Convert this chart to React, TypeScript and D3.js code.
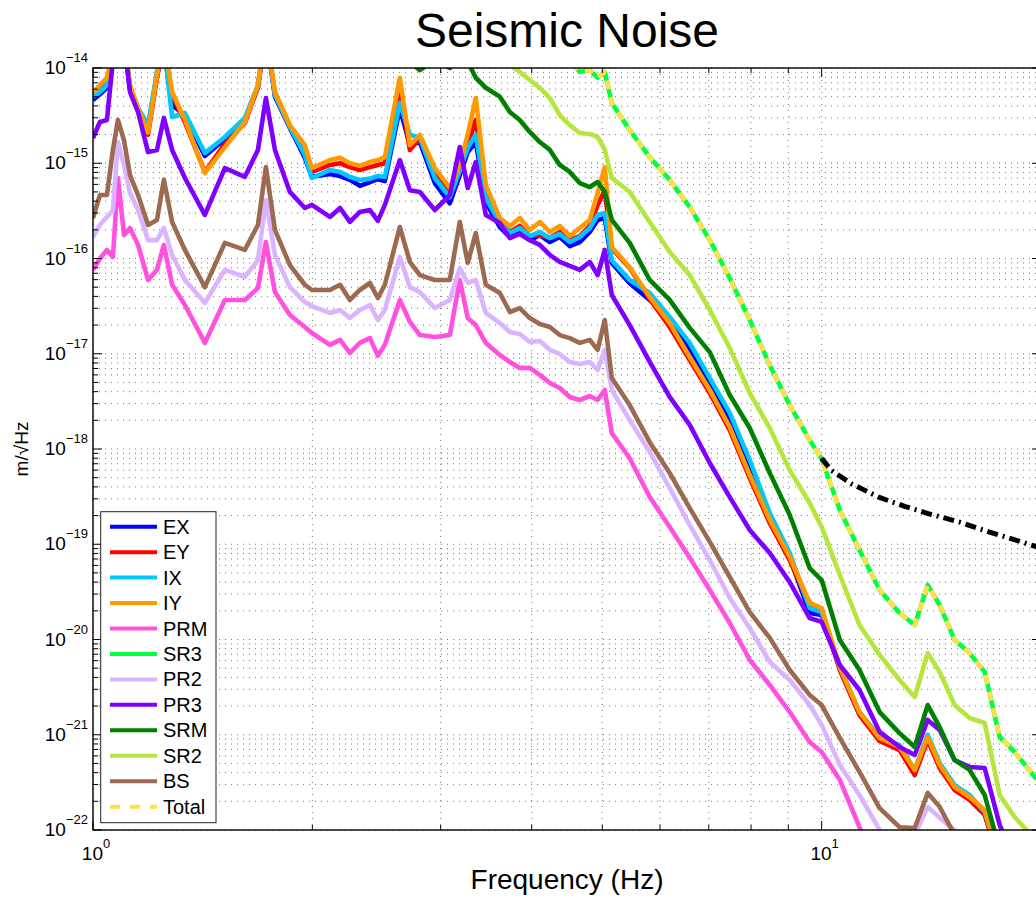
import React from "react";
import * as d3 from "d3";

// shared frequency grid (Hz)
const freqs = [
  1.0, 1.022, 1.045, 1.065, 1.082, 1.103, 1.124, 1.153, 1.19, 1.224,
  1.251, 1.284, 1.337, 1.424, 1.517, 1.616, 1.684, 1.727, 1.777, 1.863,
  1.953, 1.997, 2.114, 2.183, 2.252, 2.324, 2.399, 2.46, 2.515, 2.637,
  2.722, 2.809, 2.945, 3.088, 3.187, 3.268, 3.352, 3.46, 3.617,
  3.733, 3.852, 3.976, 4.104, 4.236, 4.371, 4.511, 4.656, 4.806,
  4.927, 5.039, 5.152, 5.452, 5.808, 6.186, 6.591, 7.022, 7.479, 7.967,
  8.487, 9.04, 9.628, 10.0, 10.59, 11.27, 12.01, 12.79, 13.42, 13.98,
  14.52, 15.22, 15.96, 16.74, 17.55, 18.4, 19.66, 20.55,
];

const exVals = [
  4.6e-15, 5.3e-15, 6.2e-15, 1.27e-14, 2.4e-14, 1.87e-14, 5.9e-15, 3.6e-15, 2.4e-15, 8.4e-15,
  1.62e-14, 4.1e-15, 3.2e-15, 1.19e-15, 1.8e-15, 2.85e-15, 6.3e-15, 2.4e-14, 5.0e-15, 2.34e-15,
  1.14e-15, 7.2e-16, 7.7e-16, 7.35e-16, 6.7e-16, 5.8e-16, 6.35e-16, 6.8e-16, 6.5e-16, 3.8e-15,
  1.55e-15, 1.67e-15, 6.2e-16, 3.8e-16, 7.5e-16, 1.31e-15, 1.67e-15, 3.9e-16, 2.14e-16,
  1.68e-16, 1.85e-16, 1.56e-16, 1.76e-16, 1.49e-16, 1.68e-16, 1.35e-16, 1.49e-16, 1.9e-16,
  2.54e-16, 2.66e-16, 9.0e-17, 5.5e-17, 3.67e-17, 2.26e-17, 1.1e-17, 4.9e-18, 2.0e-18, 6.8e-19,
  1.93e-19, 7.2e-20, 1.9e-20, 1.81e-20, 5.0e-21, 1.65e-21, 9.0e-22, 7.3e-22, 4.1e-22, 9.25e-22,
  4.7e-22, 2.76e-22, 2.17e-22, 1.48e-22, 4.7e-23, null, null, null,
];

const eyVals = [
  5.1e-15, 5.9e-15, 7.0e-15, 1.27e-14, 2.4e-14, 1.87e-14, 6.3e-15, 3.6e-15, 2.0e-15, 7.9e-15,
  1.87e-14, 5.2e-15, 2.7e-15, 8.1e-16, 1.6e-15, 2.65e-15, 6.3e-15, 2.4e-14, 5.3e-15, 2.4e-15,
  1.38e-15, 8.1e-16, 9.6e-16, 1.0e-15, 9.1e-16, 8.5e-16, 9.1e-16, 9.6e-16, 1.0e-15, 5.9e-15,
  1.38e-15, 1.84e-15, 7.9e-16, 4.9e-16, 8.1e-16, 1.55e-15, 2.85e-15, 5.2e-16, 2.42e-16,
  1.9e-16, 2.2e-16, 1.72e-16, 1.76e-16, 1.64e-16, 1.9e-16, 1.56e-16, 1.72e-16, 2.2e-16,
  3.65e-16, 5.2e-16, 1.28e-16, 7.95e-17, 3.76e-17, 1.91e-17, 8.6e-18, 3.87e-18, 1.58e-18, 4.96e-19,
  1.67e-19, 6.8e-20, 2.25e-20, 1.99e-20, 4.78e-21, 1.61e-21, 8.6e-22, 6.9e-22, 3.78e-22, 8.8e-22,
  4.47e-22, 2.63e-22, 2.07e-22, 1.44e-22, 4.6e-23, null, null, null,
];

const ixVals = [
  5.0e-15, 5.6e-15, 6.6e-15, 1.37e-14, 2.5e-14, 2.0e-14, 6.2e-15, 3.8e-15, 2.52e-15, 9.1e-15,
  1.74e-14, 3.06e-15, 3.37e-15, 1.28e-15, 1.89e-15, 3.0e-15, 6.6e-15, 2.5e-14, 5.2e-15, 2.4e-15,
  1.22e-15, 7.0e-16, 8.5e-16, 8.1e-16, 7.2e-16, 6.67e-16, 6.9e-16, 7.35e-16, 7.2e-16, 4.3e-15,
  2.0e-15, 1.84e-15, 7.0e-16, 4.4e-16, 8.5e-16, 1.45e-15, 2.0e-15, 4.3e-16, 2.36e-16,
  1.85e-16, 2.09e-16, 1.72e-16, 1.9e-16, 1.64e-16, 1.81e-16, 1.49e-16, 1.68e-16, 2.09e-16,
  2.87e-16, 3.0e-16, 9.6e-17, 5.95e-17, 4.34e-17, 2.43e-17, 1.3e-17, 5.56e-18, 2.39e-18, 7.66e-19,
  2.13e-19, 8.1e-20, 2.14e-20, 1.94e-20, 5.14e-21, 1.73e-21, 9.47e-22, 7.8e-22, 4.27e-22, 1.0e-21,
  5.05e-22, 2.96e-22, 2.33e-22, 1.55e-22, 4.8e-23, null, null, null,
];

const iyVals = [
  5.5e-15, 6.6e-15, 7.9e-15, 1.37e-14, 2.5e-14, 2.0e-14, 6.6e-15, 3.8e-15, 2.1e-15, 8.4e-15,
  2.0e-14, 5.6e-15, 2.85e-15, 7.9e-16, 1.48e-15, 2.71e-15, 6.6e-15, 2.5e-14, 5.6e-15, 2.52e-15,
  1.55e-15, 8.9e-16, 1.08e-15, 1.14e-15, 1.0e-15, 9.4e-16, 1.03e-15, 1.08e-15, 1.16e-15, 7.9e-15,
  1.55e-15, 1.98e-15, 8.9e-16, 5.5e-16, 9.6e-16, 2.0e-15, 4.84e-15, 5.9e-16, 2.66e-16,
  2.19e-16, 2.66e-16, 1.99e-16, 2.42e-16, 1.9e-16, 2.2e-16, 1.72e-16, 2.09e-16, 2.54e-16,
  4.87e-16, 9.1e-16, 1.32e-16, 8.1e-17, 3.94e-17, 2.1e-17, 9.25e-18, 4.17e-18, 1.7e-18, 5.33e-19,
  1.8e-19, 7.35e-20, 2.42e-20, 2.14e-20, 5.14e-21, 1.73e-21, 9.25e-22, 7.44e-22, 4.27e-22, 9.47e-22,
  4.81e-22, 2.83e-22, 2.22e-22, 1.62e-22, 4.84e-23, null, null, null,
];

const prmVals = [
  7.6e-17, 1.0e-16, 1.23e-16, 1.04e-16, 7.0e-16, 1.76e-16, 2.09e-16, 1.39e-16, 5.95e-17, 7.6e-17,
  1.39e-16, 5.3e-17, 3.25e-17, 1.3e-17, 3.67e-17, 3.67e-17, 4.9e-17, 1.49e-16, 4.45e-17, 2.55e-17,
  1.91e-17, 1.65e-17, 1.24e-17, 1.4e-17, 1.02e-17, 1.3e-17, 1.46e-17, 9.5e-18, 1.24e-17, 3.67e-17,
  2.16e-17, 1.57e-17, 1.5e-17, 1.57e-17, 5.95e-17, 2.37e-17, 2.0e-17, 1.3e-17, 9.7e-18,
  8.2e-18, 7.1e-18, 7.1e-18, 6.0e-18, 4.93e-18, 4.37e-18, 3.52e-18, 3.27e-18, 3.6e-18,
  3.27e-18, 4.17e-18, 1.47e-18, 8.0e-19, 3.13e-19, 1.52e-19, 7.2e-20, 3.31e-20, 1.49e-20, 6.1e-21,
  3.33e-21, 1.73e-21, 8.4e-22, 6.6e-22, 3.35e-22, 1.07e-22, 3.8e-23, null, null, null,
  null, null, null, null, null, null, null, null,
];

const sr3Vals = [
  null, null, null, null, null, null, null, null, null, null,
  null, null, null, null, null, null, null, null, null, null,
  null, null, null, null, null, null, null, null, null, null,
  null, null, null, null, null, null, null, null, null,
  null, 3.2e-14, 2.63e-14, 2.22e-14, 1.87e-14, 1.55e-14, 1.21e-14, 9.1e-15, 9.5e-15,
  7.9e-15, 9.1e-15, 4.3e-15, 2.23e-15, 1.16e-15, 6.7e-16, 3.47e-16, 1.56e-16, 6.24e-17, 2.26e-17,
  7.6e-18, 2.89e-18, 1.24e-18, 7.85e-19, 2.29e-19, 8.7e-20, 3.31e-20, 1.9e-20, 1.42e-20, 3.74e-20,
  2.3e-20, 9.9e-21, 7.2e-21, 4.56e-21, 9.47e-22, 6.6e-22, 3.52e-22, 2.63e-22,
];

const pr2Vals = [
  1.68e-16, 2.25e-16, 2.73e-16, 3.23e-16, 1.67e-15, 9.6e-16, 4.87e-16, 3.23e-16, 1.56e-16, 1.56e-16,
  2.09e-16, 1.09e-16, 5.95e-17, 3.41e-17, 7.6e-17, 6.4e-17, 9.6e-17, 4.11e-16, 1.09e-16, 5.0e-17,
  3.49e-17, 3.17e-17, 2.68e-17, 2.88e-17, 2.37e-17, 2.88e-17, 3.25e-17, 2.26e-17, 2.88e-17, 1.04e-16,
  5.0e-17, 4.45e-17, 3.02e-17, 3.67e-17, 7.95e-17, 5.53e-17, 5.95e-17, 2.68e-17, 2.1e-17,
  1.69e-17, 1.61e-17, 1.33e-17, 1.36e-17, 1.1e-17, 9.94e-18, 8.2e-18, 7.8e-18, 8.2e-18,
  6.75e-18, 1.1e-17, 4.17e-18, 2.01e-18, 9.3e-19, 3.89e-19, 1.59e-19, 6.83e-20, 2.73e-20, 1.32e-20,
  5.8e-21, 3.76e-21, 2.05e-21, 1.27e-21, 4.81e-22, 2.33e-22, 1.0e-22, 6.2e-23, 8.86e-23, 1.75e-22,
  1.34e-22, 1.0e-22, 6.2e-23, null, null, null, null, null,
];

const pr3Vals = [
  1.84e-15, 2.71e-15, 2.85e-15, 1.21e-14, 3.2e-14, 2.0e-14, 5.6e-15, 3.45e-15, 1.31e-15, 1.38e-15,
  2.99e-15, 1.38e-15, 7.0e-16, 2.87e-16, 8.9e-16, 7.2e-16, 1.38e-15, 4.84e-15, 1.38e-15, 5.0e-16,
  3.39e-16, 3.65e-16, 2.73e-16, 3.39e-16, 2.42e-16, 3.08e-16, 3.23e-16, 2.48e-16, 3.65e-16, 1.08e-15,
  5.2e-16, 5.0e-16, 3.23e-16, 4.64e-16, 1.48e-15, 5.5e-16, 1.03e-15, 2.87e-16, 2.36e-16,
  1.64e-16, 1.81e-16, 1.56e-16, 1.39e-16, 1.09e-16, 9.2e-17, 8.35e-17, 7.6e-17, 9.2e-17,
  6.7e-17, 1.23e-16, 4.14e-17, 2.0e-17, 8.2e-18, 3.52e-18, 1.79e-18, 7.13e-19, 3.13e-19, 1.41e-19,
  8.1e-20, 4.0e-20, 1.68e-20, 1.53e-20, 5.4e-21, 2.95e-21, 1.07e-21, 7.44e-22, 6.13e-22, 1.43e-21,
  1.12e-21, 5.43e-22, 4.59e-22, 4.47e-22, 1.13e-22, 4.8e-23, null, null,
];

const srmVals = [
  null, null, null, null, null, null, null, null, null, null,
  null, null, null, null, null, null, null, null, null, null,
  null, null, null, null, null, null, 4.06e-14, 2.6e-14, 2.0e-14, 1.37e-14,
  1.16e-14, 9.5e-15, 1.21e-14, 1.0e-14, 1.37e-14, 1.16e-14, 7.9e-15, 6.2e-15, 5.0e-15,
  3.45e-15, 2.85e-15, 2.13e-15, 1.67e-15, 1.38e-15, 9.6e-16, 8.1e-16, 6.2e-16, 5.63e-16,
  6.35e-16, 5.0e-16, 2.54e-16, 1.46e-16, 5.95e-17, 3.67e-17, 1.87e-17, 1.04e-17, 3.69e-18, 1.66e-18,
  5.6e-19, 2.03e-19, 5.63e-20, 4.21e-20, 9.9e-21, 4.78e-21, 1.73e-21, 1.04e-21, 7.44e-22, 2.05e-21,
  1.2e-21, 5.43e-22, 4.27e-22, 2.33e-22, 6.2e-23, null, null, null,
];

const sr2Vals = [
  null, null, null, null, null, null, null, null, null, null,
  null, null, null, null, null, null, null, null, null, null,
  null, null, null, null, null, null, null, null, null, null,
  null, null, null, null, null, null, null, 2.5e-14, 1.55e-14,
  1.07e-14, 9.1e-15, 7.48e-15, 6.17e-15, 4.84e-15, 3.21e-15, 2.52e-15, 2.08e-15, 2.03e-15,
  1.89e-15, 1.38e-15, 7.0e-16, 5.0e-16, 2.42e-16, 1.17e-16, 6.7e-17, 2.88e-17, 1.15e-17, 3.87e-18,
  1.66e-18, 6.0e-19, 2.71e-19, 1.52e-19, 4.76e-20, 1.42e-20, 6.9e-21, 3.76e-21, 2.49e-21, 7.2e-21,
  4.56e-21, 2.05e-21, 1.5e-21, 1.33e-21, 2.33e-22, 1.37e-22, 7.85e-23, 6.2e-23,
];

const bsVals = [
  2.66e-16, 4.64e-16, 4.64e-16, 1.38e-15, 2.85e-15, 1.74e-15, 7.5e-16, 4.64e-16, 2.25e-16, 2.54e-16,
  6.7e-16, 2.42e-16, 1.23e-16, 5.0e-17, 1.46e-16, 1.23e-16, 2.25e-16, 9.1e-16, 2.0e-16, 8.5e-17,
  5.3e-17, 4.67e-17, 4.67e-17, 5.3e-17, 3.67e-17, 4.67e-17, 5.53e-17, 3.85e-17, 5.3e-17, 2.14e-16,
  9.2e-17, 6.7e-17, 5.95e-17, 5.95e-17, 2.42e-16, 9.0e-17, 1.85e-16, 5.3e-17, 4.34e-17,
  2.74e-17, 3.02e-17, 2.37e-17, 2.05e-17, 1.91e-17, 1.57e-17, 1.46e-17, 1.3e-17, 1.4e-17,
  1.1e-17, 2.26e-17, 5.56e-18, 2.89e-18, 1.18e-18, 5.6e-19, 2.4e-19, 1.06e-19, 4.53e-20, 1.94e-20,
  1.04e-20, 4.78e-21, 2.62e-21, 2.05e-21, 9.25e-22, 4.07e-22, 1.7e-22, 1.07e-22, 1.05e-22, 2.45e-22,
  1.75e-22, 8.86e-23, 4.8e-23, null, null, null, null, null,
];

// the total sits right on top of SR3
const totalVals = sr3Vals;

// black dash-dot reference curve
const refFreqs = [10, 10.3, 11, 12, 13, 14, 15.5, 17, 18.5, 20];
const refVals = [8.0e-19, 6.0e-19, 4.3e-19, 3.1e-19, 2.5e-19, 2.1e-19, 1.7e-19, 1.34e-19, 1.1e-19, 9.1e-20];

const names = ["EX", "EY", "IX", "IY", "PRM", "SR3", "PR2", "PR3", "SRM", "SR2", "BS", "Total"];
const colors = [
  "#0000ff", "#ff0000", "#00c8ff", "#ff9900", "#ff50e0", "#00ff44",
  "#dbb4ff", "#7f00ff", "#008000", "#b5e63e", "#9b6a50", "#ffdf4a",
];
const seriesVals = [exVals, eyVals, ixVals, iyVals, prmVals, sr3Vals, pr2Vals, pr3Vals, srmVals, sr2Vals, bsVals, totalVals];

const W = 1036;
const H = 901;
const left = 93, right = 1041, top = 68, bottom = 830;
const font = "'Liberation Sans', Arial, Helvetica, sans-serif";

function isMajor(v: number) {
  const l = Math.log10(v);
  return Math.abs(l - Math.round(l)) < 1e-6;
}

function supLabel(v: number) {
  return String(Math.round(Math.log10(v))).replace("-", "\u2212");
}

export default function App() {
  const x = d3.scaleLog().domain([1, 20]).range([left, right]);
  const y = d3.scaleLog().domain([1e-22, 1e-14]).range([bottom, top]);

  const line = d3
    .line<[number, number | null]>()
    .defined((d) => d[1] != null)
    .x((d) => x(d[0]))
    .y((d) => y(d[1] as number));

  const xTicks = x.ticks();
  const yTicks = y.ticks();

  const refPath = line(refFreqs.map((f, i) => [f, refVals[i]] as [number, number]));

  const legendTop = 526.7;
  const legendStep = 25.45;

  return (
    <svg
      width={W}
      height={H}
      style={{ position: "absolute", left: 0, top: 0, background: "#fff" }}
      fontFamily={font}
    >
      <defs>
        <clipPath id="plotclip">
          <rect x={left} y={top} width={right - left} height={bottom - top} />
        </clipPath>
      </defs>
      <rect x={0} y={0} width={W} height={H} fill="#fff" />

      {/* dotted grid, major and minor */}
      <g stroke="#222" strokeWidth={1} strokeDasharray="1,5" opacity={0.6}>
        {xTicks.map((t, i) => (
          <line key={"gx" + i} x1={x(t)} x2={x(t)} y1={top} y2={bottom} />
        ))}
        {yTicks.map((t, i) => (
          <line key={"gy" + i} x1={left} x2={right} y1={y(t)} y2={y(t)} />
        ))}
      </g>

      {/* curves */}
      <g clipPath="url(#plotclip)" fill="none" strokeLinejoin="round">
        {seriesVals.map((vals, si) => (
          <path
            key={names[si]}
            d={line(freqs.map((f, i) => [f, vals[i]] as [number, number | null])) || ""}
            stroke={colors[si]}
            strokeWidth={4.6}
            strokeDasharray={names[si] === "Total" ? "9,8" : undefined}
          />
        ))}
        <path d={refPath || ""} stroke="#000" strokeWidth={5} strokeDasharray="11,5,2,5" />
      </g>

      {/* axes box and ticks */}
      <g stroke="#000" strokeWidth={1}>
        <rect x={left} y={top} width={right - left} height={bottom - top} fill="none" strokeWidth={1.4} />
        {xTicks.map((t, i) => {
          const len = isMajor(t) ? 9 : 5;
          return (
            <g key={"tx" + i}>
              <line x1={x(t)} x2={x(t)} y1={bottom} y2={bottom - len} />
              <line x1={x(t)} x2={x(t)} y1={top} y2={top + len} />
            </g>
          );
        })}
        {yTicks.map((t, i) => {
          const len = isMajor(t) ? 9 : 5;
          return (
            <g key={"ty" + i}>
              <line x1={left} x2={left + len} y1={y(t)} y2={y(t)} />
              <line x1={right} x2={right - len} y1={y(t)} y2={y(t)} />
            </g>
          );
        })}
      </g>

      {/* tick labels */}
      <g fill="#000">
        {yTicks.filter(isMajor).map((t, i) => (
          <text key={"ly" + i} x={88} y={y(t) + 6} textAnchor="end" fontSize={19}>
            10
            <tspan fontSize={13} dy={-12}>
              {supLabel(t)}
            </tspan>
          </text>
        ))}
        {xTicks.filter(isMajor).map((t, i) => (
          <text key={"lx" + i} x={x(t) + 3} y={860} textAnchor="middle" fontSize={19}>
            10
            <tspan fontSize={13} dy={-12}>
              {supLabel(t)}
            </tspan>
          </text>
        ))}
      </g>

      {/* titles */}
      <text x={(left + right) / 2} y={47} textAnchor="middle" fontSize={48} fill="#000">
        Seismic Noise
      </text>
      <text x={(left + right) / 2} y={889} textAnchor="middle" fontSize={28} fill="#000">
        Frequency (Hz)
      </text>
      <text transform={`translate(28,${(top + bottom) / 2}) rotate(-90)`} textAnchor="middle" fontSize={19} fill="#000">
        m/√Hz
      </text>

      {/* legend */}
      <g>
        <rect x={100.7} y={511.7} width={115.3} height={311} fill="#fff" stroke="#222" strokeWidth={1} />
        {names.map((n, i) => {
          const ly = legendTop + i * legendStep;
          return (
            <g key={"lg" + n}>
              <line
                x1={110}
                x2={157}
                y1={ly}
                y2={ly}
                stroke={colors[i]}
                strokeWidth={4}
                strokeDasharray={n === "Total" ? "10,10" : undefined}
              />
              <text x={163} y={ly + 7} fontSize={20} fill="#000">
                {n}
              </text>
            </g>
          );
        })}
      </g>
    </svg>
  );
}
